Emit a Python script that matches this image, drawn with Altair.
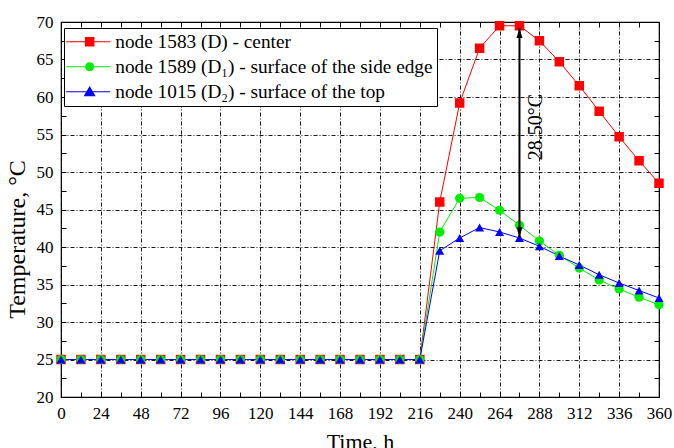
import altair as alt
import pandas as pd

times = [0, 12, 24, 36, 48, 60, 72, 84, 96, 108, 120, 132, 144, 156, 168, 180,
         192, 204, 216, 228, 240, 252, 264, 276, 288, 300, 312, 324, 336, 348, 360]
center = [25, 25, 25, 25, 25, 25, 25, 25, 25, 25, 25, 25, 25, 25, 25, 25, 25, 25, 25,
          46.0, 59.2, 66.5, 69.5, 69.5, 67.5, 64.7, 61.5, 58.1, 54.7, 51.5, 48.5]
side = [25, 25, 25, 25, 25, 25, 25, 25, 25, 25, 25, 25, 25, 25, 25, 25, 25, 25, 25,
        42.0, 46.5, 46.6, 44.9, 42.9, 40.8, 38.9, 37.2, 35.6, 34.4, 33.3, 32.3]
top = [25, 25, 25, 25, 25, 25, 25, 25, 25, 25, 25, 25, 25, 25, 25, 25, 25, 25, 25,
       39.5, 41.2, 42.6, 42.0, 41.2, 40.1, 38.8, 37.6, 36.3, 35.2, 34.2, 33.2]

series_names = ["node 1583 (D) - center",
                "node 1589 (D\u2081) - surface of the side edge",
                "node 1015 (D\u2082) - surface of the top"]
colors = ["#ff0000", "#00ee00", "#0000ff"]
marker_shapes = ["square", "circle", "triangle-up"]
marker_sizes = [90, 81, 125]

x_ticks = [0, 24, 48, 72, 96, 120, 144, 168, 192, 216, 240, 264, 288, 312, 336, 360]
y_ticks = [20, 25, 30, 35, 40, 45, 50, 55, 60, 65, 70]
x_minor = times
y_minor = [20, 22.5, 25, 27.5, 30, 32.5, 35, 37.5, 40, 42.5, 45, 47.5, 50, 52.5,
           55, 57.5, 60, 62.5, 65, 67.5, 70]

arrow_x = [276]
arrow_lo = [41.3]
arrow_hi = [69.2]
note_text = ["28.50\u00b0C"]
note_x = [286]
note_y = [56]

FONT = "Liberation Serif"
W, H = 598, 375

rows = []
for name, vals in zip(series_names, [center, side, top]):
    for t, v in zip(times, vals):
        rows.append({"time": t, "temp": v, "series": name})
df = pd.DataFrame(rows)

xs = alt.Scale(domain=[0, 360], nice=False, zero=False)
ys = alt.Scale(domain=[20, 70], nice=False, zero=False)
cscale = alt.Scale(domain=series_names, range=colors)


def tick_axis(orient, offset, values):
    return alt.Axis(orient=orient, offset=offset, values=values, labels=False,
                    grid=False, domain=False, ticks=True, tickSize=5,
                    tickColor="black", tickWidth=1, title=None)


lines = alt.Chart(df).mark_line(strokeWidth=1).encode(
    x=alt.X("time:Q", scale=xs, axis=alt.Axis(
        values=x_ticks, title="Time, h", grid=True, ticks=False, domain=False,
        gridColor="black", gridDash=[4, 2, 1, 2], gridOpacity=0.9,
        labelPadding=8, labelFontSize=17, titleFontSize=22, titleY=51,
        titleBaseline="alphabetic", labelFlush=False)),
    y=alt.Y("temp:Q", scale=ys, axis=alt.Axis(
        values=y_ticks, title="Temperature, \u00b0C", grid=True, ticks=False,
        domain=False, gridColor="black", gridDash=[4, 2, 1, 2], gridOpacity=0.9,
        labelPadding=8, labelFontSize=17, titleFontSize=24, titleX=-44, titleY=217,
        titleBaseline="middle", labelFlush=False)),
    color=alt.Color("series:N", scale=cscale, legend=None),
)

points = alt.Chart(df).mark_point(filled=True, opacity=1).encode(
    x=alt.X("time:Q", scale=xs, axis=tick_axis("top", -H, x_minor)),
    y=alt.Y("temp:Q", scale=ys, axis=tick_axis("right", -W, y_minor)),
    color=alt.Color("series:N", scale=cscale, legend=None),
    shape=alt.Shape("series:N", scale=alt.Scale(domain=series_names, range=marker_shapes), legend=None),
    size=alt.Size("series:N", scale=alt.Scale(domain=series_names, range=marker_sizes), legend=None),
)

arrow_df = pd.DataFrame({"x": arrow_x, "lo": arrow_lo, "hi": arrow_hi})
arrow = alt.Chart(arrow_df).mark_rule(color="black", strokeWidth=2).encode(
    x=alt.X("x:Q", scale=xs, axis=tick_axis("bottom", -H, x_minor)),
    y=alt.Y("lo:Q", scale=ys, axis=tick_axis("left", -W, y_minor)),
    y2="hi:Q",
)
head_up = alt.Chart(arrow_df).mark_point(
    shape="M0,0 L0.3,1 L-0.3,1 Z", filled=True, color="black", opacity=1, size=400
).encode(x=alt.X("x:Q", scale=xs, axis=None), y=alt.Y("hi:Q", scale=ys, axis=None))
head_down = alt.Chart(arrow_df).mark_point(
    shape="M0,0 L0.3,-1 L-0.3,-1 Z", filled=True, color="black", opacity=1, size=400
).encode(x=alt.X("x:Q", scale=xs, axis=None), y=alt.Y("lo:Q", scale=ys, axis=None))

note_df = pd.DataFrame({"x": note_x, "y": note_y, "t": note_text})
note = alt.Chart(note_df).mark_text(
    angle=270, font=FONT, fontSize=20, color="black", align="center", baseline="middle"
).encode(x=alt.X("x:Q", scale=xs, axis=None), y=alt.Y("y:Q", scale=ys, axis=None), text="t:N")

legend_paths = [
    "M-4.7,-0.1 H4.1 V0.1 H-4.7 Z M-0.95,-0.95 H0.95 V0.95 H-0.95 Z",
    "M-4.7,-0.1 H4.1 V0.1 H-4.7 Z M0.9,0 A0.9,0.9 0 1,1 -0.9,0 A0.9,0.9 0 1,1 0.9,0 Z",
    "M-4.7,-0.1 H4.1 V0.1 H-4.7 Z M0,-1.15 L1.2,0.9 L-1.2,0.9 Z",
]
leg_props = dict(title=None, labelFont=FONT, labelFontSize=19.3, labelColor="black",
                 labelLimit=0)
legend_df = pd.DataFrame({"series": series_names})
leg = alt.Chart(legend_df).transform_filter("false").mark_point(
    filled=True, opacity=1, size=100
).encode(
    color=alt.Color("series:N", scale=alt.Scale(domain=series_names, range=colors),
                    legend=alt.Legend(**leg_props)),
    shape=alt.Shape("series:N", scale=alt.Scale(domain=series_names, range=legend_paths),
                    legend=alt.Legend(**leg_props)),
)

chart = alt.layer(lines, points, arrow, head_up, head_down, note, leg).resolve_axis(
    x="independent", y="independent"
).resolve_scale(
    color="independent", shape="independent", size="independent"
).properties(
    width=W, height=H,
    padding={"left": 61, "top": 22, "right": 15, "bottom": 51},
    autosize=alt.AutoSizeParams(type="none"),
).configure(
    font=FONT, background="white"
).configure_view(
    stroke="black", strokeWidth=1.2
).configure_axis(
    labelFont=FONT, titleFont=FONT, labelColor="black", titleColor="black",
    titleFontWeight="normal",
).configure_legend(
    orient="none", legendX=3, legendY=6, fillColor="white", strokeColor="black",
    padding=4, labelFont=FONT, labelFontSize=19.3, labelColor="black", labelLimit=0,
    rowPadding=5, symbolSize=100, symbolStrokeWidth=0, symbolOffset=12,
    labelOffset=16, cornerRadius=0,
)

chart.save("out.html", embed_options={"renderer": "svg", "actions": False})
